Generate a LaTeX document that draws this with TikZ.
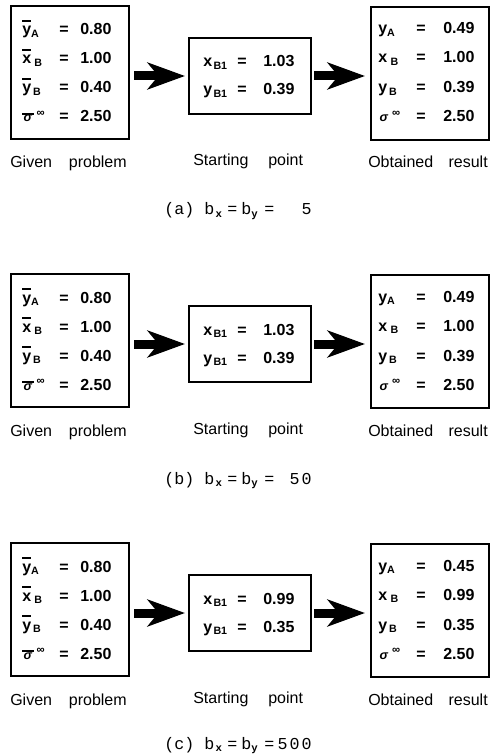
\documentclass[tikz,border=0pt]{standalone}
\usepackage{fontspec}
\setmainfont{Liberation Sans}
\newfontfamily\capfont{Liberation Mono}
\usetikzlibrary{arrows.meta}
\newcommand\ovl[2][1.8pt]{\leavevmode\vbox{\hrule height 1.1pt\kern #1\hbox{#2}}}
\newcommand\sub[2][-2pt]{\raisebox{#1}{\fontsize{8pt}{9pt}\selectfont\bfseries #2}}
\newcommand\sig{{\fontsize{9.5pt}{10pt}\selectfont\bfseries\itshape σ}}
\newcommand\infsup{\raisebox{3.8pt}{\fontsize{8.5pt}{9pt}\selectfont\bfseries ∞}}
\newcommand\capsub[1]{\raisebox{-2pt}{\fontsize{8pt}{9pt}\selectfont\bfseries #1}}
\newcommand\rowtxt[7]{%
  \node[txt, anchor=base west] (#1l) at (#2,#5) {#6};
  \node[txt, anchor=base] (#1e) at (#3,#5) {=};
  \node[txt, anchor=base west] (#1v) at (#4,#5) {#7};
}
\tikzset{
  frame/.style={draw, line width=1.5pt, inner sep=0pt, anchor=north west},
  txt/.style={inner sep=0pt, font=\fontsize{12pt}{14pt}\selectfont\bfseries},
  lbl/.style={inner sep=0pt, font=\fontsize{12pt}{14pt}\selectfont},
  captxt/.style={inner sep=0pt, font=\fontsize{12.5pt}{14pt}\capfont},
  fat/.style={line width=6.75pt, -{Stealth[length=28pt, width=20pt, inset=8pt]}}
}
\begin{document}
\begin{tikzpicture}[x=0.75pt, y=-0.75pt]
\useasboundingbox (0,0) rectangle (496,755);
\foreach \p/\off/\sa/\sb/\ra/\rb/\rc/\cl/\cn/\cy in {%
  a/0/1.03/0.39/0.49/1.00/0.39/(a)/5/215,%
  b/268/1.03/0.39/0.49/1.00/0.39/(b)/50/484,%
  c/537/0.99/0.35/0.45/0.99/0.35/(c)/500/749}{
  % boxes
  \node[frame, minimum width=88.5pt, minimum height=99.75pt] (G\p) at (10,5+\off) {};
  \node[frame, minimum width=91.5pt, minimum height=57pt] (S\p) at (188,37+\off) {};
  \node[frame, minimum width=88.5pt, minimum height=99.75pt] (R\p) at (370,6+\off) {};
  % given problem rows
  \rowtxt{G\p1}{22}{64}{80}{35+\off}{\ovl{\vphantom{A}y}\sub{A}}{0.80}
  \rowtxt{G\p2}{22}{64}{80}{64+\off}{\ovl{\vphantom{A}x}\hspace{2.5pt}\sub{B}}{1.00}
  \rowtxt{G\p3}{22}{64}{80}{93+\off}{\ovl{\vphantom{A}y}\hspace{1.5pt}\sub{B}}{0.40}
  \rowtxt{G\p4}{22}{64}{80}{122+\off}{\ovl[0.4pt]{\hspace{1pt}\sig\hspace{1.5pt}}\hspace{2pt}\infsup}{2.50}
  % starting point rows
  \rowtxt{S\p1}{203}{242}{263}{67+\off}{x\hspace{1pt}\sub[-2.2pt]{B1}}{\sa}
  \rowtxt{S\p2}{203}{242}{263}{95+\off}{y\hspace{1pt}\sub[-2.2pt]{B1}}{\sb}
  % result rows
  \rowtxt{R\p1}{378}{421}{443}{34+\off}{y\sub{A}}{\ra}
  \rowtxt{R\p2}{378}{421}{443}{63+\off}{x\hspace{2.5pt}\sub{B}}{\rb}
  \rowtxt{R\p3}{378}{421}{443}{93+\off}{y\hspace{1.5pt}\sub{B}}{\rc}
  \rowtxt{R\p4}{378}{421}{443}{122+\off}{\hspace{1pt}\sig\hspace{3pt}\infsup}{2.50}
  % arrows
  \draw[fat, shorten <=3pt, shorten >=2.25pt] (G\p.east |- S\p.west) -- (S\p.west);
  \draw[fat, shorten <=1.5pt, shorten >=3.75pt] (S\p.east) -- (S\p.east -| R\p.west);
  % labels under boxes
  \node[lbl, anchor=base west] (LG\p a) at (10,168+\off) {Given};
  \node[lbl, anchor=base east] (LG\p b) at (127,168+\off) {problem};
  \node[lbl, anchor=base west] (LS\p a) at (193,166+\off) {Starting};
  \node[lbl, anchor=base west] (LS\p b) at (268,166+\off) {point};
  \node[lbl, anchor=base west] (LR\p a) at (368,168+\off) {Obtained};
  \node[lbl, anchor=base east] (LR\p b) at (488,168+\off) {result};
  % caption
  \node[captxt, anchor=base west] (C\p) at (164,\cy) {\cl\ b\hspace{1pt}\capsub{x}\hspace{4pt}=\hspace{3pt}b\capsub{y}\hspace{5pt}=};
  \node[captxt, anchor=base east] (N\p) at (312,\cy) {\addfontfeature{LetterSpace=12}\cn};
}
\end{tikzpicture}
\end{document}
